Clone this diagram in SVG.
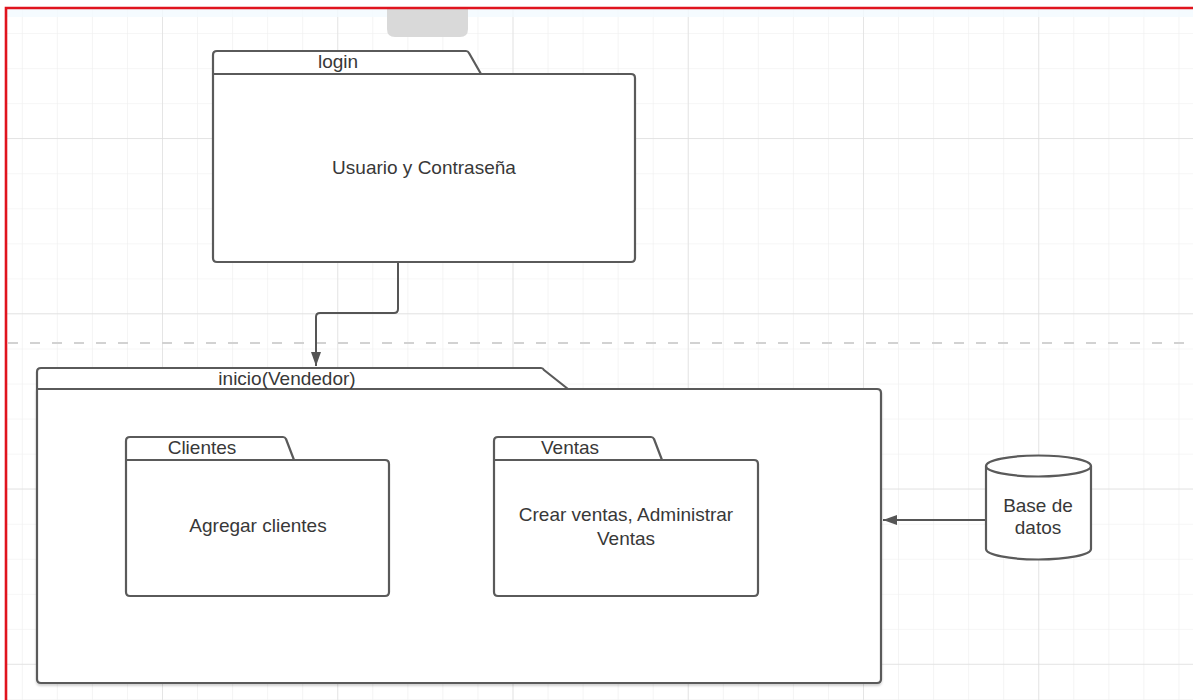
<svg xmlns="http://www.w3.org/2000/svg" width="1193" height="700" viewBox="0 0 1193 700">
  <defs>
    <pattern id="gridMinor" x="21.8" y="-2" width="35.05" height="35.05" patternUnits="userSpaceOnUse">
      <path d="M0,0 V35.05 M0,0 H35.05" fill="none" stroke="#eeeeee" stroke-width="1.2"/>
    </pattern>
    <pattern id="gridMajor" x="162" y="138" width="175.25" height="175.25" patternUnits="userSpaceOnUse">
      <path d="M0,0 V175.25 M0,0 H175.25" fill="none" stroke="#dedede" stroke-width="1.4"/>
    </pattern>
    <marker id="arrow" viewBox="0 0 14 10" refX="14" refY="5" markerWidth="14" markerHeight="10" markerUnits="userSpaceOnUse" orient="auto">
      <path d="M0,0 L14,5 L0,10 Z" fill="#555555"/>
    </marker>
    <filter id="shadow" x="-5%" y="-5%" width="110%" height="110%">
      <feDropShadow dx="0" dy="2" stdDeviation="1.2" flood-color="#000000" flood-opacity="0.18"/>
    </filter>
  </defs>
  <style>
    .pkg { fill: #ffffff; stroke: #5a5a5a; stroke-width: 2.2; stroke-linejoin: round; }
    .edge { fill: none; stroke: #555555; stroke-width: 2; }
    .label { font-family: "Liberation Sans", Arial, sans-serif; font-size: 19px; fill: #383838; text-anchor: middle; }
  </style>

  <!-- canvas background and grid -->
  <rect x="0" y="0" width="1193" height="700" fill="#ffffff"/>
  <rect x="6" y="8" width="1187" height="692" fill="url(#gridMinor)"/>
  <rect x="6" y="8" width="1187" height="692" fill="url(#gridMajor)"/>
  <rect x="7" y="9" width="1186" height="8" fill="#f3faff" opacity="0.8"/>

  <!-- page break guide -->
  <line x1="8" y1="343" x2="1193" y2="343" stroke="#d2d2d2" stroke-width="2" stroke-dasharray="10 12"/>

  <!-- toolbar tab -->
  <path d="M387,9 H468 V29 Q468,37 460,37 H395 Q387,37 387,29 Z" fill="#d9d9d9"/>

  <!-- canvas frame -->
  <path d="M6,700 V8 H1193" fill="none" stroke="#e0141e" stroke-width="2.6"/>

  <!-- connectors -->
  <g id="connectors">
    <path class="edge" d="M398,262 V309 Q398,313 394,313 H320 Q316,313 316,317 V366" marker-end="url(#arrow)"/>
    <path class="edge" d="M986,520 H883" marker-end="url(#arrow)"/>
  </g>

  <!-- login package -->
  <g id="login">
    <path class="pkg" d="M213,74 V55 Q213,51 217,51 H466 Q468,51 469,53 L481,74 Z"/>
    <path class="pkg" d="M213,74 H631 Q635,74 635,78 V258 Q635,262 631,262 H217 Q213,262 213,258 Z"/>
    <text class="label" x="338" y="68">login</text>
    <text class="label" x="424" y="174">Usuario y Contraseña</text>
  </g>

  <!-- inicio(Vendedor) package -->
  <g id="inicio">
    <g filter="url(#shadow)">
      <path class="pkg" d="M37,389 H877 Q881,389 881,393 V679 Q881,683 877,683 H41 Q37,683 37,679 Z"/>
    </g>
    <path class="pkg" d="M37,389 V372 Q37,368 41,368 H541 Q543,368 544,370 L568,389 Z"/>
    <text class="label" x="287" y="385">inicio(Vendedor)</text>
  </g>

  <!-- Clientes package -->
  <g id="clientes">
    <path class="pkg" d="M126,460 V441 Q126,437 130,437 H283 Q285,437 286,439 L294,460 Z"/>
    <path class="pkg" d="M126,460 H385 Q389,460 389,464 V592 Q389,596 385,596 H130 Q126,596 126,592 Z"/>
    <text class="label" x="202" y="454">Clientes</text>
    <text class="label" x="258" y="532">Agregar clientes</text>
  </g>

  <!-- Ventas package -->
  <g id="ventas">
    <path class="pkg" d="M494,460 V441 Q494,437 498,437 H651 Q653,437 654,439 L662,460 Z"/>
    <path class="pkg" d="M494,460 H754 Q758,460 758,464 V592 Q758,596 754,596 H498 Q494,596 494,592 Z"/>
    <text class="label" x="570" y="454">Ventas</text>
    <text class="label" x="626" y="521">Crear ventas, Administrar</text>
    <text class="label" x="626" y="545">Ventas</text>
  </g>

  <!-- Base de datos cylinder -->
  <g id="basedatos">
    <path class="pkg" d="M986,466 V549 A52.5,10.5 0 0 0 1091,549 V466 A52.5,10.5 0 0 0 986,466 Z"/>
    <path class="pkg" d="M986,466 A52.5,10.5 0 0 0 1091,466" fill="none"/>
    <text class="label" x="1038" y="512">Base de</text>
    <text class="label" x="1038" y="534">datos</text>
  </g>
</svg>
